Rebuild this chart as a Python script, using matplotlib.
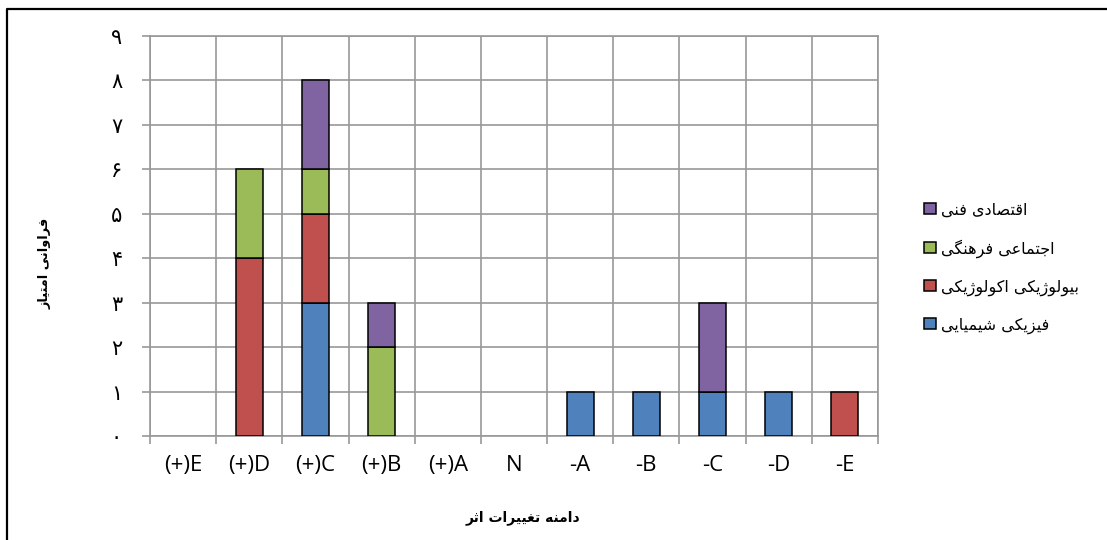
import numpy as np
import matplotlib
matplotlib.use('Agg')
import matplotlib.pyplot as plt
from matplotlib.patches import Patch
from matplotlib.lines import Line2D

categories = ['(+)E', '(+)D', '(+)C', '(+)B', '(+)A', 'N', '-A', '-B', '-C', '-D', '-E']
physical = [0, 0, 3, 0, 0, 0, 1, 1, 1, 1, 0]
biological = [0, 4, 2, 0, 0, 0, 0, 0, 0, 0, 1]
social = [0, 2, 1, 2, 0, 0, 0, 0, 0, 0, 0]
economic = [0, 0, 2, 1, 0, 0, 0, 0, 2, 0, 0]
series_names = ['فیزیکی شیمیایی', 'بیولوژیکی اکولوژیکی', 'اجتماعی فرهنگی', 'اقتصادی فنی']
series_colors = ['#4F81BD', '#C0504D', '#9BBB59', '#8064A2']
y_ticks = ['۰', '۱', '۲', '۳', '۴', '۵', '۶', '۷', '۸', '۹']
x_title = 'دامنه تغییرات اثر'
y_title = 'فراوانی امتیاز'

# contextual forms: isolated, final, initial, medial (None = no link to next letter)
FORMS = {
    'ا': (0xFE8D, 0xFE8E, None, None),
    'ب': (0xFE8F, 0xFE90, 0xFE91, 0xFE92),
    'ت': (0xFE95, 0xFE96, 0xFE97, 0xFE98),
    'ث': (0xFE99, 0xFE9A, 0xFE9B, 0xFE9C),
    'ج': (0xFE9D, 0xFE9E, 0xFE9F, 0xFEA0),
    'د': (0xFEA9, 0xFEAA, None, None),
    'ر': (0xFEAD, 0xFEAE, None, None),
    'ز': (0xFEAF, 0xFEB0, None, None),
    'ژ': (0xFB8A, 0xFB8B, None, None),
    'ش': (0xFEB5, 0xFEB6, 0xFEB7, 0xFEB8),
    'ص': (0xFEB9, 0xFEBA, 0xFEBB, 0xFEBC),
    'ع': (0xFEC9, 0xFECA, 0xFECB, 0xFECC),
    'غ': (0xFECD, 0xFECE, 0xFECF, 0xFED0),
    'ف': (0xFED1, 0xFED2, 0xFED3, 0xFED4),
    'ق': (0xFED5, 0xFED6, 0xFED7, 0xFED8),
    'ک': (0xFB8E, 0xFB8F, 0xFB90, 0xFB91),
    'گ': (0xFB92, 0xFB93, 0xFB94, 0xFB95),
    'ل': (0xFEDD, 0xFEDE, 0xFEDF, 0xFEE0),
    'م': (0xFEE1, 0xFEE2, 0xFEE3, 0xFEE4),
    'ن': (0xFEE5, 0xFEE6, 0xFEE7, 0xFEE8),
    'ه': (0xFEE9, 0xFEEA, 0xFEEB, 0xFEEC),
    'و': (0xFEED, 0xFEEE, None, None),
    'ی': (0xFBFC, 0xFBFD, 0xFBFE, 0xFBFF),
}


def shape(text):
    # join persian letters and flip to visual order, since matplotlib lays text out left to right
    out = []
    for i, ch in enumerate(text):
        if ch not in FORMS:
            out.append(ch)
            continue
        prev = text[i - 1] if i > 0 else ''
        nxt = text[i + 1] if i + 1 < len(text) else ''
        f = FORMS[ch]
        link_prev = prev in FORMS and FORMS[prev][2] is not None
        link_next = nxt in FORMS and f[2] is not None
        if link_prev and link_next:
            code = f[3]
        elif link_prev:
            code = f[1]
        elif link_next:
            code = f[2]
        else:
            code = f[0]
        out.append(chr(code))
    return ''.join(out)[::-1]


plt.rcParams['font.family'] = ['DejaVu Sans']

fig = plt.figure(figsize=(11.07, 5.40), dpi=100)
ax = fig.add_axes([150 / 1107, 1 - 436 / 540, 728 / 1107, 400 / 540])

x = np.arange(len(categories))
bottom = np.zeros(len(categories))
handles = []
for vals, name, color in zip([physical, biological, social, economic], series_names, series_colors):
    vals = np.array(vals, dtype=float)
    nz = vals > 0  # empty segments get no outline
    ax.bar(x[nz], vals[nz], width=0.41, bottom=bottom[nz], color=color, edgecolor='black',
           linewidth=1.1, zorder=3)
    bottom += vals
    handles.append(Patch(facecolor=color, edgecolor='black', linewidth=1.1, label=shape(name)))

ax.set_xlim(-0.5, len(categories) - 0.5)
ax.set_ylim(0, 9)

grid_color = '#989898'
ax.set_xticks(np.arange(-0.5, len(categories), 1))
ax.set_xticklabels([])
ax.set_xticks(x, minor=True)
ax.set_xticklabels(categories, minor=True, family='Open Sans', fontsize=16)
ax.tick_params(axis='x', which='major', direction='out', length=6, width=1.2, color=grid_color)
ax.tick_params(axis='x', which='minor', length=0, pad=14)

ax.set_yticks(range(10))
ax.set_yticklabels(y_ticks, fontsize=15)
ax.tick_params(axis='y', direction='out', length=6, width=1.2, color=grid_color, pad=14)

ax.grid(True, which='major', color=grid_color, linewidth=1.2, zorder=0)
ax.set_axisbelow(True)
for sp in ax.spines.values():
    sp.set_color(grid_color)
    sp.set_linewidth(1.2)

fig.text(523 / 1107, 1 - 518 / 540, shape(x_title), ha='center', va='center',
         fontsize=10, fontweight='bold')
fig.text(45 / 1107, 1 - 263 / 540, shape(y_title), ha='center', va='center',
         fontsize=9.3, fontweight='bold', rotation=90)

fig.legend(handles=handles[::-1], loc='upper left', bbox_to_anchor=(918 / 1107, 1 - 196 / 540),
           frameon=False, fontsize=11.5, handlelength=0.7, handleheight=0.7,
           handletextpad=0.35, labelspacing=1.35, borderaxespad=0)

# outer frame: left and top edges only
fig.add_artist(Line2D([7 / 1107, 7 / 1107, 1], [0, 1 - 9 / 540, 1 - 9 / 540],
                      color='black', linewidth=1.6, transform=fig.transFigure))

fig.savefig('out.png', dpi=100)
